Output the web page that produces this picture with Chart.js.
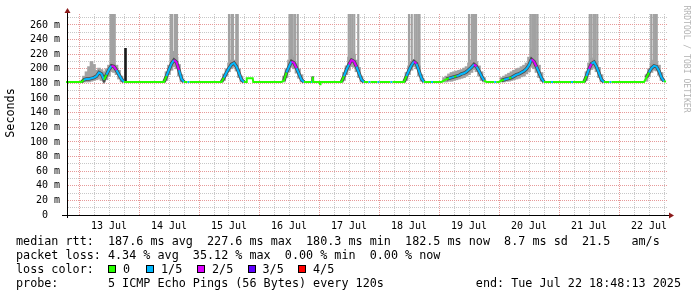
<!DOCTYPE html>
<html><head><meta charset="utf-8">
<script src="https://cdn.jsdelivr.net/npm/chart.js@4.4.1/dist/chart.umd.min.js"></script>
<style>
html,body{margin:0;padding:0;background:#fff;}
#wrap{position:relative;width:697px;height:297px;overflow:hidden;background:#fff;}
#c{position:absolute;left:0;top:0;}
.t{position:absolute;font-family:'DejaVu Sans Mono',monospace;font-size:11.76px;line-height:14px;white-space:pre;color:#000;}
.box{position:absolute;width:8px;height:8px;box-sizing:border-box;border:1px solid #000;top:265px;}
#ylab{position:absolute;left:-40px;top:106px;width:100px;text-align:center;transform:rotate(-90deg);font-family:'DejaVu Sans Mono',monospace;font-size:11.76px;line-height:14px;color:#000;}
#wm{position:absolute;left:632px;top:53px;width:110px;text-align:center;transform:rotate(90deg);font-family:'DejaVu Sans Mono',monospace;font-size:8.1px;line-height:12px;color:#b4b4b4;white-space:pre;}
</style></head><body>
<div id="wrap">
<canvas id="c" width="697" height="297"></canvas>
<div id="ylab">Seconds</div>
<div id="wm">RRDTOOL / TOBI OETIKER</div>
<div class="t" style="left:16px;top:234px">median rtt:  187.6 ms avg  227.6 ms max  180.3 ms min  182.5 ms now  8.7 ms sd  21.5   am/s</div>
<div class="t" style="left:16px;top:248px">packet loss: 4.34 % avg  35.12 % max  0.00 % min  0.00 % now</div>
<div class="t" style="left:16px;top:262px">loss color:</div>
<div id="lossLegend"></div>
<div class="t" style="left:16px;top:276px">probe:       5 ICMP Echo Pings (56 Bytes) every 120s</div>
<div class="t" style="right:16px;top:276px">end: Tue Jul 22 18:48:13 2025</div>
</div>
<script>
// ---- data (x = hours since 13 Jul 00:00) ----
const dayLabels = ['13 Jul','14 Jul','15 Jul','16 Jul','17 Jul','18 Jul','19 Jul','20 Jul','21 Jul','22 Jul'];
const lossLabels = ['0','1/5','2/5','3/5','4/5'];
const lossPalette = ['#26ff00','#00b8ff','#dd00ff','#5e00ff','#ff0000'];

const medianHours = [
-5.2,0,1,2,3,4,5,6,7,8,9,10,11,12,13,14,15,16,17,18,
19,34,35,36,37,38,39,40,41,42,43.4,44.2,
57,58,59,60,61,62,63,64,65,66,66.9,67.1,69.5,69.7,
81,82,83,84,85,86,87,88,89,90,92.8,93.3,93.5,93.7,96.2,96.4,96.6,
105,106,107,108,109,110,111,112,113,114,115.8,116.6,119.4,120.2,124.6,125.4,
130,131,132,133,134,135,136,137,138,140.8,141.6,
145,146,147,148,149,150,151,152,153,154,155,156,157,158,159,160,161,162,163,166.1,166.9,
168,169,170,171,172,173,174,175,176,177,178,179,180,181,182,183,184,185,186,188.8,189.6,196.8,197.6,
202,203,204,205,206,207,208,209,210,212.2,213,
226,227,228,229,230,231,232,233,234,234.8];
const medianMs = [
182,182,182,185,186,186,187,188,190,195,193,185,192,199,204,203,198,192,186,182,
182,182,190,199,207,212,209,198,186,182,182,182,
182,188,195,201,206,208,203,194,185,182,182,187,187,182,
182,184,195,203,210,208,201,193,185,182,182,182,189,182,182,179,182,
182,190,199,206,212,210,203,194,185,182,182,182,182,182,182,182,
182,190,198,205,210,207,197,187,182,182,182,
182,184,186,187,188,189,190,191,193,194,196,199,202,206,203,197,190,184,182,182,182,
182,184,185,186,187,188,190,192,193,195,197,200,205,213,210,203,195,187,182,182,182,182,182,
182,190,200,207,209,203,194,185,182,182,182,
182,188,195,201,204,203,197,188,183,182.5];
const medianLoss = [
0,0,0,1,1,1,1,1,1,1,1,0,1,1,2,2,1,1,1,0,
0,0,1,1,1,2,2,1,1,0,1,0,
0,1,1,1,1,1,1,1,1,0,0,0,0,0,
0,0,1,1,2,2,1,1,1,0,1,0,0,0,0,0,0,
0,1,1,2,2,2,1,1,1,0,1,0,1,0,1,0,
0,1,1,1,2,1,1,1,0,1,0,
0,0,0,1,1,0,1,1,1,1,1,1,1,2,1,1,1,0,0,1,0,
0,0,1,1,0,1,1,1,1,1,1,1,1,2,2,1,1,1,0,1,0,1,0,
0,1,2,1,1,1,1,1,0,1,0,
0,0,1,1,1,1,1,1,0,0];

const smokeHours = [
2,3,4,5,6,7,8,9,10,11,12,13,14,15,16,17,
35,36,37,38,39,40,41,
58,59,60,61,62,63,64,65,
82,83,84,85,86,87,88,89,
106,107,108,109,110,111,112,113,
131,132,133,134,135,136,137,
146,147,148,149,150,151,152,153,154,155,156,157,158,159,160,161,162,
169,170,171,172,173,174,175,176,177,178,179,180,181,182,183,184,185,
203,204,205,206,207,208,209,
227,228,229,230,231,232,233];
const smokeMin = [
182,182,182,183,184,185,186,184,182,185,190,196,195,192,186,182,
184,192,198,203,200,190,182,
184,190,196,200,202,197,188,182,
182,188,196,202,200,194,187,182,
184,192,198,203,202,196,188,182,
184,192,198,203,200,190,183,
182,182,183,183,184,185,186,187,188,190,192,195,199,196,190,184,182,
182,182,183,183,184,185,186,187,189,190,193,196,202,200,195,188,183,
184,192,199,201,196,188,182,
183,189,195,198,197,191,184];
const smokeMax = [
190,196,203,210,206,198,201,199,196,200,205,209,207,205,198,190,
196,205,220,224,216,206,192,
193,200,208,212,212,208,200,190,
190,200,212,219,216,208,200,192,
195,204,216,224,220,212,202,190,
195,204,210,212,211,204,192,
188,190,193,195,196,197,198,199,201,203,208,212,215,210,204,196,188,
188,190,192,194,196,198,200,201,203,205,208,216,226,220,212,205,195,
196,208,214,215,210,202,192,
192,200,208,212,210,205,195];

const spikeHours = [
12.6,13.2,13.8,14.3,
36.7,37.3,38.4,39.2,
60.0,61.0,61.6,62.9,63.5,
84.2,84.8,85.5,86.4,87.5,
107.9,108.6,109.3,110.1,111.7,
132.0,133.1,134.3,135.0,135.7,136.2,
156.0,157.1,157.7,158.4,158.8,
180.6,181.3,182.0,182.7,183.4,
204.3,205.0,205.9,206.5,207.3,
228.9,229.9,230.5,231.1];
const spikeLow = [
200,203,203,200,
205,208,210,206,
200,205,207,206,203,
203,207,210,208,201,
205,208,212,210,203,
198,205,210,208,207,199,
199,202,204,206,205,
205,211,212,208,203,
200,207,209,208,204,
201,204,204,203];
const spikeHigh = [
300,300,300,300,
300,300,300,300,
300,300,300,300,300,
300,300,300,300,300,
300,300,300,300,300,
300,300,300,300,300,300,
300,300,300,300,300,
300,300,300,300,300,
300,300,300,300,300,
300,300,300,300];

const coreHours = [18.6, 93.5];
const coreMin = [182, 182];
const coreMax = [228, 189];

// ---- legend boxes ----
const boxX = [108, 146, 197, 247.5, 298];
const lg = document.getElementById('lossLegend');
lossLabels.forEach((lab, i) => {
  const b = document.createElement('div');
  b.className = 'box'; b.style.left = boxX[i] + 'px'; b.style.background = lossPalette[i];
  lg.appendChild(b);
  const t = document.createElement('div');
  t.className = 't'; t.style.left = (boxX[i] + 15) + 'px'; t.style.top = '262px'; t.textContent = lab;
  lg.appendChild(t);
});

// ---- chart ----
const xTicks = []; for (let h = 0; h <= 234; h += 6) xTicks.push(h);
const yTicks = []; for (let v = 0; v <= 270; v += 10) yTicks.push(v);
const monoFont = {family: "'DejaVu Sans Mono', monospace", size: 10};
const medianPts = medianHours.map((h, i) => ({x: h, y: medianMs[i]}));

const axisArrows = {
  id: 'axisArrows',
  afterDraw(chart) {
    const {ctx, chartArea: a} = chart;
    const x0 = Math.round(a.left) + 0.5, y0 = Math.round(a.bottom) + 0.5;
    ctx.save();
    ctx.strokeStyle = '#000'; ctx.lineWidth = 1;
    ctx.beginPath();
    ctx.moveTo(a.left - 5, y0); ctx.lineTo(a.right + 4, y0);
    ctx.moveTo(x0, a.bottom + 3); ctx.lineTo(x0, a.top - 3);
    ctx.stroke();
    ctx.fillStyle = '#8b1a1a';
    ctx.beginPath();
    ctx.moveTo(x0 - 3, a.top - 1); ctx.lineTo(x0 + 3, a.top - 1); ctx.lineTo(x0, a.top - 6); ctx.closePath();
    ctx.fill();
    ctx.beginPath();
    ctx.moveTo(a.right + 2, y0 - 3); ctx.lineTo(a.right + 2, y0 + 3); ctx.lineTo(a.right + 7, y0); ctx.closePath();
    ctx.fill();
    ctx.restore();
  }
};

const coreVisible = c => {
  const flat = c.p0.parsed.y < 184 && c.p1.parsed.y < 184;
  const clean = medianLoss[c.p0DataIndex] === 0 && medianLoss[c.p1DataIndex] === 0;
  return !(flat || clean);
};

new Chart(document.getElementById('c'), {
  type: 'bar',
  data: {
    datasets: [
      {type: 'line', label: 'median', data: medianPts, borderWidth: 2, pointRadius: 0, tension: 0, order: 0,
       borderColor: lossPalette[0], clip: 2,
       segment: {borderColor: c => lossPalette[medianLoss[c.p0DataIndex]]}},
      {type: 'line', label: 'median core', data: medianPts, borderWidth: 3.5, pointRadius: 0, tension: 0, order: 1,
       borderColor: '#4a4a4a', clip: 2,
       segment: {borderColor: c => coreVisible(c) ? '#4a4a4a' : 'rgba(0,0,0,0)'}},
      {type: 'bar', label: 'core', data: coreHours.map((h, i) => ({x: h, y: [coreMin[i], coreMax[i]]})),
       backgroundColor: '#1c1c1c', barThickness: 2, grouped: false, order: 2, clip: 0},
      {type: 'bar', label: 'spikes', data: spikeHours.map((h, i) => ({x: h, y: [spikeLow[i], spikeHigh[i]]})),
       backgroundColor: '#a2a2a2', barThickness: 1.5, grouped: false, order: 3, clip: 0},
      {type: 'bar', label: 'smoke', data: smokeHours.map((h, i) => ({x: h, y: [smokeMin[i], smokeMax[i]]})),
       backgroundColor: '#a2a2a2', barThickness: 3, grouped: false, order: 4, clip: 0}
    ]
  },
  options: {
    responsive: false, animation: false, devicePixelRatio: 1,
    layout: {padding: {top: 14, right: 30, left: 0, bottom: 0}},
    plugins: {legend: {display: false}, tooltip: {enabled: false}},
    scales: {
      x: {
        type: 'linear', min: -4.8, max: 235.2, offset: false,
        grid: {offset: false, drawTicks: false, lineWidth: 1, borderDash: [1, 1],
               color: c => (c.tick && c.tick.value % 24 === 0) ? '#e79a9a' : '#c8c8c8'},
        border: {display: true, color: '#000', width: 1, dash: [1, 1]},
        ticks: {autoSkip: false, maxRotation: 0, minRotation: 0, padding: 5, font: monoFont, color: '#000',
                callback: v => { const k = (v - 12) / 24; return (Number.isInteger(k) && k >= 0 && k < dayLabels.length) ? dayLabels[k] : ''; }},
        afterBuildTicks: s => { s.ticks = xTicks.map(v => ({value: v})); },
        afterFit: s => { s.height = 82; }
      },
      y: {
        min: 0, max: 275,
        grid: {drawTicks: false, lineWidth: 1, borderDash: [1, 1],
               color: c => (c.tick && c.tick.value % 20 === 0) ? '#e79a9a' : '#c8c8c8'},
        border: {display: true, color: '#000', width: 1, dash: [1, 1]},
        ticks: {autoSkip: false, padding: 7, font: monoFont, color: '#000',
                callback: v => (v % 20 === 0) ? (v === 0 ? '0  ' : v + ' m') : ''},
        afterBuildTicks: s => { s.ticks = yTicks.map(v => ({value: v})); },
        afterFit: s => { s.width = 67; }
      }
    }
  },
  plugins: [axisArrows]
});
</script>
</body></html>
